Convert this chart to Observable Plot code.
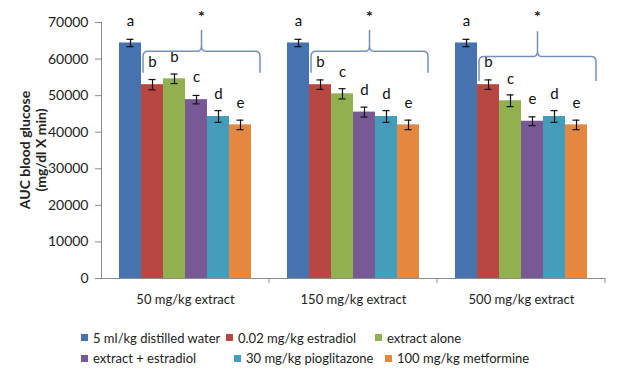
<!DOCTYPE html>
<html><head><meta charset="utf-8">
<script src="https://cdn.jsdelivr.net/npm/d3@7"></script>
<script src="https://cdn.jsdelivr.net/npm/@observablehq/plot@0.6"></script>
<style>
body{margin:0;background:#fff;font-family:Lato,sans-serif;}
#chart{position:relative;width:624px;height:370px;overflow:hidden;background:#fff;}
#ylab{position:absolute;left:33px;top:150px;width:200px;transform:translate(-50%,-50%) rotate(-90deg);text-align:center;font-weight:bold;font-size:14px;line-height:16px;color:#222;}
.lrow{position:absolute;left:81px;display:flex;align-items:center;font-size:13px;color:#222;white-space:nowrap;}
.litem{display:flex;align-items:center;}
.sw{width:7px;height:7px;margin-right:5px;display:inline-block;flex:none;}
</style></head><body><div id="chart"></div><script>
const groups = ["50 mg/kg extract", "150 mg/kg extract", "500 mg/kg extract"];
const series = ["5 ml/kg distilled water", "0.02 mg/kg estradiol", "extract alone", "extract + estradiol", "30 mg/kg pioglitazone", "100 mg/kg metformine"];
const colors = ["#4672AE", "#B84744", "#91B04F", "#775996", "#449DBA", "#E4873F"];
const values50 = [64400, 53000, 54600, 48900, 44300, 42000];
const values150 = [64400, 53000, 50500, 45500, 44300, 42000];
const values500 = [64400, 53000, 48600, 43000, 44300, 42000];
const errors50 = [1000, 1400, 1300, 1150, 1600, 1300];
const errors150 = [1000, 1300, 1400, 1350, 1600, 1300];
const errors500 = [1000, 1300, 1600, 1200, 1600, 1300];
const letters50 = ["a", "b", "b", "c", "d", "e"];
const letters150 = ["a", "b", "c", "d", "d", "e"];
const letters500 = ["a", "b", "c", "e", "d", "e"];
const yTicks = [0, 10000, 20000, 30000, 40000, 50000, 60000, 70000];
// brace levels (data units): horizontal, feet, peak; star above
const braceLevel = [62000, 62000, 60600];
const braceFoot = [56100, 56100, 53900];
const bracePeak = [67800, 67800, 67500];
const starValue = 72600;
const legendRows = [[0, 1, 2], [3, 4, 5]];
const legendWidths = [[145, 149, 0], [153, 151, 0]];

const allValues = [values50, values150, values500];
const allErrors = [errors50, errors150, errors500];
const allLetters = [letters50, letters150, letters500];
const rows = [];
groups.forEach((g, gi) => series.forEach((s, si) => rows.push({
  group: g, series: s, value: allValues[gi][si], err: allErrors[gi][si], letter: allLetters[gi][si]
})));
const groupRows = groups.map((g, gi) => ({group: g, gi, level: braceLevel[gi], foot: braceFoot[gi], peak: bracePeak[gi]}));

const braceColor = "#7391bb";
const axisColor = "#8c8c8c";

function decorRender(index, scales) {
  const {x, y} = scales;
  const bw = x.bandwidth();
  const [r0, r1] = d3.extent(x.range());
  const g = d3.create("svg:g");
  for (const i of index) {
    const b = groupRows[i];
    g.append("line").attr("x1", r1).attr("x2", r1).attr("y1", y(0)).attr("y2", y(0) + 5)
      .attr("stroke", axisColor);
    if (b.gi === 0) {
      g.append("line").attr("x1", r0 + 0.5).attr("x2", r0 + 0.5).attr("y1", y(0)).attr("y2", y(70000))
        .attr("stroke", axisColor);
    }
    const x0 = x(series[1]) + 2, x1 = x(series[5]) + bw + 9, xm = (x0 + x1) / 2;
    const yl = y(b.level), yf = y(b.foot), yp = y(b.peak), r = 5;
    const p = d3.path();
    p.moveTo(x0, yf); p.lineTo(x0, yl + r); p.quadraticCurveTo(x0, yl, x0 + r, yl);
    p.lineTo(xm - 4, yl); p.quadraticCurveTo(xm, yl, xm, yl - 6); p.lineTo(xm, yp);
    p.moveTo(xm, yl - 6); p.quadraticCurveTo(xm, yl, xm + 4, yl);
    p.lineTo(x1 - r, yl); p.quadraticCurveTo(x1, yl, x1, yl + r); p.lineTo(x1, yf);
    g.append("path").attr("d", p.toString()).attr("fill", "none").attr("stroke", braceColor).attr("stroke-width", 1.5);
    g.append("text").attr("x", xm).attr("y", y(starValue)).attr("dy", "0.6em").attr("text-anchor", "middle")
      .attr("font-size", 16).attr("font-weight", "bold").attr("fill", "#111").text("*");
  }
  return g.node();
}

const plot = Plot.plot({
  width: 624, height: 310,
  marginLeft: 100, marginRight: 19, marginTop: 22, marginBottom: 32,
  style: {fontFamily: "Lato, sans-serif", fontSize: "14px", color: "#222", background: "#fff", overflow: "visible"},
  fx: {domain: groups, padding: 0, label: null},
  x: {domain: series, paddingInner: 0, paddingOuter: 0.73, axis: null},
  y: {domain: [0, 70000], axis: null},
  color: {domain: series, range: colors},
  marks: [
    Plot.axisY({ticks: yTicks, tickFormat: d => String(d), tickSize: 6, tickPadding: 7, label: null, stroke: axisColor, fill: "#222", fontSize: 14}),
    Plot.barY(rows, {fx: "group", x: "series", y: "value", fill: "series"}),
    Plot.ruleY([0], {stroke: axisColor}),
    Plot.ruleX(rows, {fx: "group", x: "series", y1: d => d.value - d.err, y2: d => d.value + d.err, stroke: "#111", strokeWidth: 1.2}),
    Plot.tickY(rows, {fx: "group", x: "series", y: d => d.value - d.err, stroke: "#111", strokeWidth: 1.2, insetLeft: 7.5, insetRight: 7.5}),
    Plot.tickY(rows, {fx: "group", x: "series", y: d => d.value + d.err, stroke: "#111", strokeWidth: 1.2, insetLeft: 7.5, insetRight: 7.5}),
    Plot.text(rows, {fx: "group", x: "series", y: "value", text: "letter", dy: -22, fontSize: 15, fill: "#111"}),
    Plot.dot(groupRows, {fx: "group", x: () => series[1], y: "level", r: 1, fill: "none", render: decorRender}),
    Plot.axisFx({anchor: "bottom", tickSize: 0, tickPadding: 16, label: null, fontSize: 13, fill: "#222"})
  ]
});

const chart = document.getElementById("chart");
chart.appendChild(plot);
const ylab = document.createElement("div");
ylab.id = "ylab";
ylab.innerHTML = "AUC blood glucose<br>(mg/dl X min)";
chart.appendChild(ylab);
const rowTops = [337.5, 358];
legendRows.forEach((r, ri) => {
  const row = document.createElement("div");
  row.className = "lrow";
  row.style.top = (rowTops[ri] - 9) + "px";
  row.style.height = "18px";
  r.forEach((si, k) => {
    const it = document.createElement("div");
    it.className = "litem";
    if (legendWidths[ri][k]) it.style.width = legendWidths[ri][k] + "px";
    const sw = document.createElement("span");
    sw.className = "sw";
    sw.style.background = colors[si];
    it.appendChild(sw);
    it.appendChild(document.createTextNode(series[si]));
    row.appendChild(it);
  });
  chart.appendChild(row);
});
</script></body></html>
